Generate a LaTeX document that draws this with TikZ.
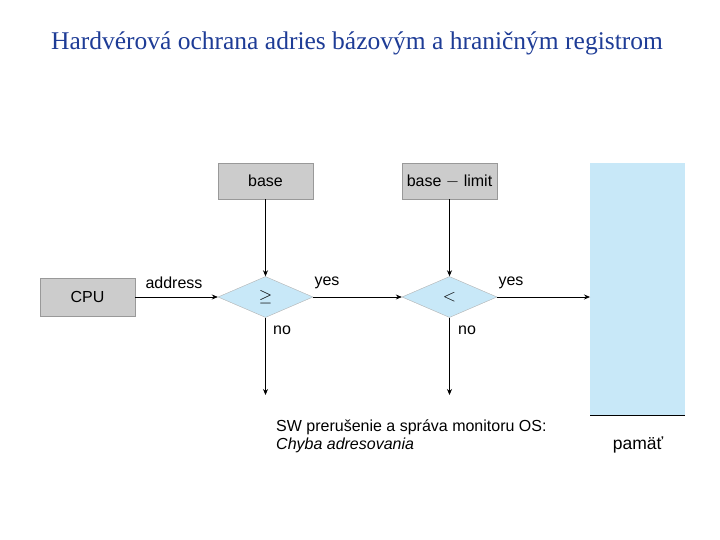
\documentclass[tikz,border=0pt]{standalone}
\usepackage{fontspec}
\setmainfont{Liberation Sans}
\newfontfamily\titlefont{Liberation Serif}
\usetikzlibrary{shapes.geometric,arrows.meta}
\definecolor{tblue}{RGB}{30,60,150}
\definecolor{lblue}{RGB}{200,232,248}
\definecolor{gbox}{RGB}{204,204,204}
\tikzset{
 reg/.style={draw=gray!80,fill=gbox,minimum width=95pt,minimum height=36pt,inner sep=0,font=\fontsize{16}{18}\selectfont},
 dia/.style={diamond,draw=gray!60,fill=lblue,minimum width=95pt,minimum height=41pt,inner sep=0,aspect=2.3,font=\fontsize{18}{20}\selectfont},
 arr/.style={-{Stealth[length=6pt,width=5pt]},line width=0.7pt},
 lab/.style={font=\fontsize{16}{18}\selectfont}
}
\begin{document}
\begin{tikzpicture}[x=1pt,y=-1pt]
\useasboundingbox (0,0) rectangle (720,540);
\node[font=\titlefont\fontsize{25.5}{28}\selectfont,text=tblue] (title) at (357,43) {Hardvérová ochrana adries bázovým a hraničným registrom};
\node[reg] (base) at (265.5,181) {base};
\node[reg] (lim) at (449.5,181) {base $-$ limit};
\node[reg,minimum height=38pt] (cpu) at (87.5,297) {CPU};
\node[dia] (d1) at (265.5,297) {$\geq$};
\node[dia] (d2) at (449.5,297) {$<$};
\fill[lblue] (590,163) rectangle (685,415);
\draw[line width=0.6pt] (590,415) -- (685,415);
\coordinate (mem) at (590,297);
\coordinate (n1) at (265.5,395);
\coordinate (n2) at (449.5,395);
\draw[arr] (base) -- (d1);
\draw[arr] (lim) -- (d2);
\draw[arr] (cpu) -- (d1);
\draw[arr] (d1) -- (d2);
\draw[arr] (d2) -- (mem);
\draw[arr] (d1) -- (n1);
\draw[arr] (d2) -- (n2);
\node[lab] (la) at (174,283) {address};
\node[lab] (ly1) at (327,283) {yes};
\node[lab] (ly2) at (511,283) {yes};
\node[lab] (ln1) at (282,330) {no};
\node[lab] (ln2) at (467,330) {no};
\node[lab,anchor=west,align=left,inner sep=0] (sw) at (276,436) {SW prerušenie a správa monitoru OS:\\\itshape Chyba adresovania};
\node[font=\fontsize{17.5}{20}\selectfont] (pam) at (638,445) {pamäť};
\end{tikzpicture}
\end{document}
